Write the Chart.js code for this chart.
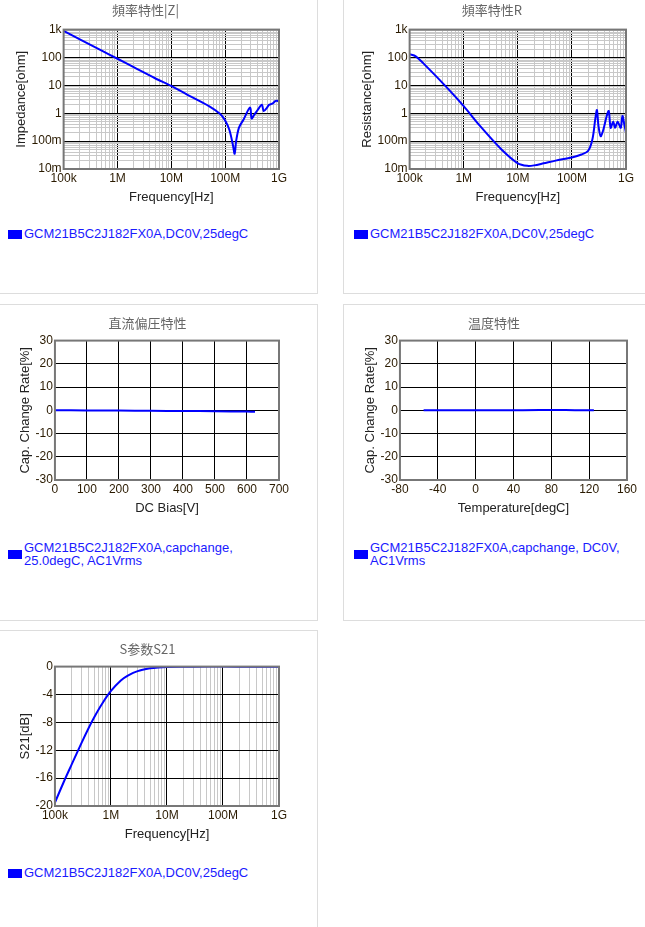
<!DOCTYPE html>
<html><head><meta charset="utf-8">
<script src="https://cdn.jsdelivr.net/npm/chart.js@4/dist/chart.umd.min.js"></script>
<style>
body{margin:0;background:#fff;width:645px;height:927px;position:relative;overflow:hidden;font-family:"Liberation Sans",Arial,sans-serif}
.panel{position:absolute;border:1px solid #ddd;box-sizing:border-box;background:#fff}
.cv{position:absolute;left:0;top:0;width:300px}
.leg{position:absolute;color:#1a1aff;font-size:13px;line-height:13px}
.leg i{position:absolute;left:0;top:3px;width:14px;height:9px;background:#0000ff}
.leg span{display:block;margin-left:16px}
</style></head><body>
<div class="panel" style="left:-1px;top:-1px;width:319px;height:295px"><div class="cv" style="height:205px"><canvas id="c1"></canvas></div><div class="leg" style="left:8px;top:227px"><i></i><span>GCM21B5C2J182FX0A,DC0V,25degC</span></div></div>
<div class="panel" style="left:343px;top:-1px;width:304px;height:295px"><div class="cv" style="height:205px"><canvas id="c2"></canvas></div><div class="leg" style="left:10px;top:227px"><i></i><span>GCM21B5C2J182FX0A,DC0V,25degC</span></div></div>
<div class="panel" style="left:-1px;top:304px;width:319px;height:317px"><div class="cv" style="height:211px"><canvas id="c3"></canvas></div><div class="leg" style="left:8px;top:236px"><i style="top:9px"></i><span>GCM21B5C2J182FX0A,capchange,<br>25.0degC, AC1Vrms</span></div></div>
<div class="panel" style="left:343px;top:304px;width:304px;height:317px"><div class="cv" style="height:211px"><canvas id="c4"></canvas></div><div class="leg" style="left:10px;top:236px"><i style="top:9px"></i><span>GCM21B5C2J182FX0A,capchange, DC0V,<br>AC1Vrms</span></div></div>
<div class="panel" style="left:-1px;top:630px;width:319px;height:299px"><div class="cv" style="height:211px"><canvas id="c5"></canvas></div><div class="leg" style="left:8px;top:235px"><i></i><span>GCM21B5C2J182FX0A,DC0V,25degC</span></div></div>
<script>
// ---- data ----
const zFreq = [1e5,2e5,5e5,1e6,2e6,5e6,1e7,2e7,5e7,8e7,1e8,1.2e8,1.4e8,1.5e8,1.6e8,1.8e8,2.2e8,2.9e8,3.1e8,3.5e8,4e8,4.8e8,5.2e8,6e8,6.5e8,7.5e8,8.5e8,9.2e8,1e9];
const zVal  = [900,450,180,90,45,18,9.5,4.6,1.8,0.95,0.55,0.25,0.07,0.035,0.1,0.3,0.6,1.6,0.65,0.9,1.3,2.0,1.2,1.6,2.0,2.2,2.7,2.8,2.6];
const rFreq = [1e5,1.3e5,2e5,5e5,1e6,2e6,5e6,1e7,1.5e7,2e7,3e7,5e7,1e8,1.5e8,2e8,2.4e8,2.7e8,2.9e8,3.1e8,3.4e8,3.8e8,4.4e8,4.8e8,5.2e8,5.8e8,6.3e8,7e8,8e8,8.6e8,9.3e8,1e9];
const rVal  = [130,110,50,8,1.8,0.35,0.05,0.016,0.013,0.0135,0.016,0.02,0.026,0.033,0.045,0.12,0.6,1.3,0.35,0.15,0.25,0.8,1.2,0.3,0.5,0.3,0.5,0.3,0.8,0.4,0.2];
const dcBias = [0,100,200,300,400,500,600,625];
const dcVal  = [0,-0.05,-0.1,-0.2,-0.3,-0.4,-0.55,-0.6];
const temp   = [-55,-25,0,25,50,85,105,125];
const tempVal= [0,0.05,0.05,0,0.05,0.1,0.05,0];
const sFreq = [1e5,1.5e5,2e5,3e5,4e5,5e5,7e5,1e6,1.5e6,2e6,3e6,5e6,7e6,1e7,3e7,1e8,3e8,1e9];
const sVal  = [-19.5,-16.2,-14,-10.9,-8.8,-7.3,-5.3,-3.5,-2,-1.3,-0.65,-0.25,-0.12,-0.06,-0.01,0,-0.02,-0.02];
const logLabels = {1e-2:'10m',1e-1:'100m',1:'1',10:'10',100:'100',1000:'1k',1e5:'100k',1e6:'1M',1e7:'10M',1e8:'100M',1e9:'1G'};

const TICK='#2a1a00', TICKF={family:'Liberation Sans',size:12};
const TITLEF={family:'Liberation Sans',size:13};
const frame={id:'frame',afterDraw(c){const a=c.chartArea,x=c.ctx;x.save();x.strokeStyle='#777';x.lineWidth=2;x.strokeRect(a.left,a.top,a.right-a.left,a.bottom-a.top);x.restore();}};
function isDec(v){const l=Math.log10(v);return Math.abs(l-Math.round(l))<1e-6;}
function logAxis(min,max,title){
  return {type:'logarithmic',min,max,
    afterBuildTicks(s){const t=[];for(let e=Math.round(Math.log10(min));e<Math.round(Math.log10(max));e++){for(let k=1;k<10;k++)t.push({value:k*Math.pow(10,e)});}t.push({value:max});s.ticks=t;},
    ticks:{autoSkip:false,maxRotation:0,color:TICK,font:TICKF,padding:2,callback:(v)=>{if(!isDec(v))return '';const e=Math.round(Math.log10(v));return logLabels[Math.pow(10,e)]??logLabels[v];}},
    grid:{color:(ctx)=>isDec(ctx.tick.value)?'#000':'#c8c8c8',lineWidth:1,drawTicks:false},
    border:{display:false},
    title:{display:true,text:title,color:'#222',font:TITLEF,padding:{top:2,bottom:0}}};
}
function linAxis(min,max,step,title){
  return {type:'linear',min,max,ticks:{stepSize:step,color:TICK,font:TICKF,padding:2,maxRotation:0,autoSkip:false},
    grid:{color:'#000',drawTicks:false},border:{display:false},
    title:{display:true,text:title,color:'#222',font:TITLEF,padding:{top:2,bottom:0}}};
}
function make(id,title,xs,ys,xAxis,yAxis,pad,tb){
  new Chart(document.getElementById(id),{type:'line',
    data:{datasets:[{data:xs.map((x,i)=>({x,y:ys[i]})),borderColor:'#0000ff',borderWidth:2,pointRadius:0,tension:0.3,fill:false}]},
    options:{responsive:true,maintainAspectRatio:false,animation:false,
      layout:{padding:pad},
      plugins:{legend:{display:false},tooltip:{enabled:false},
        title:{display:true,text:title,color:'#666',font:{family:'Noto Sans CJK SC',size:13,weight:'normal'},padding:{top:0,bottom:tb}}},
      scales:{x:xAxis,y:yAxis}},plugins:[frame]});
}
make('c1','頻率特性|Z|',zFreq,zVal,logAxis(1e5,1e9,'Frequency[Hz]'),logAxis(1e-2,1e3,'Impedance[ohm]'),{left:12,right:21,top:2},12);
make('c2','頻率特性R',rFreq,rVal,logAxis(1e5,1e9,'Frequency[Hz]'),logAxis(1e-2,1e3,'Resistance[ohm]'),{left:14,right:18,top:2},12);
make('c3','直流偏圧特性',dcBias,dcVal,linAxis(0,700,100,'DC Bias[V]'),linAxis(-30,30,10,'Cap. Change Rate[%]'),{left:16,right:21,top:10},10);
make('c4','温度特性',temp,tempVal,linAxis(-80,160,40,'Temperature[degC]'),linAxis(-30,30,10,'Cap. Change Rate[%]'),{left:17,right:17,top:10},10);
make('c5','S参数S21',sFreq,sVal,logAxis(1e5,1e9,'Frequency[Hz]'),linAxis(-20,0,4,'S21[dB]'),{left:16,right:21,top:10},10);
</script></body></html>
